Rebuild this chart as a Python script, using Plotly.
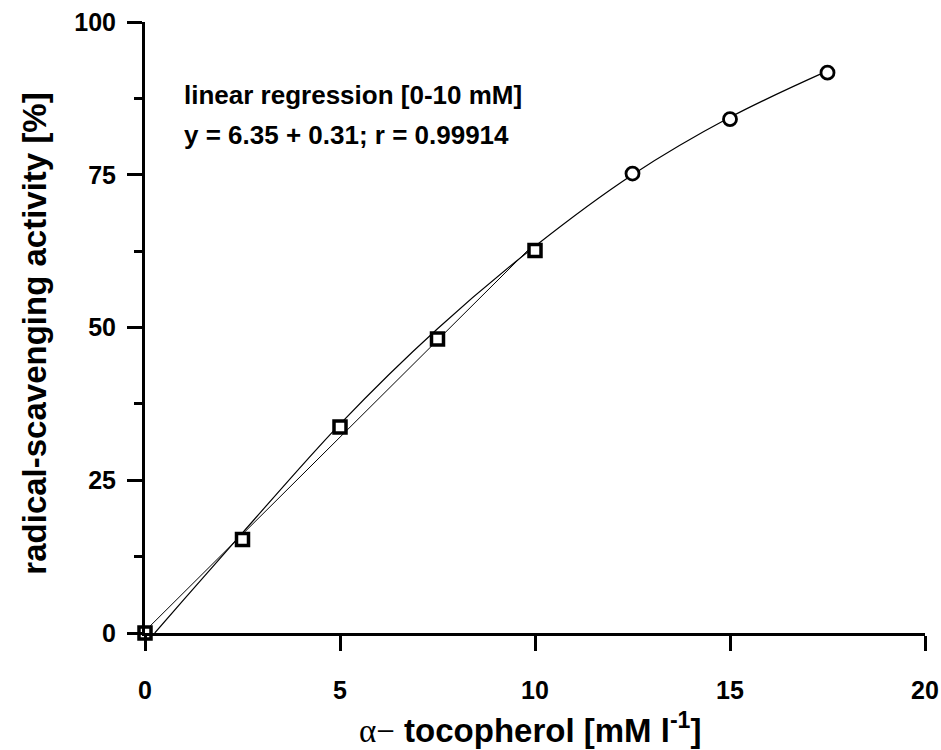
import plotly.graph_objects as go

# measured data points
sq_x = [0, 2.5, 5, 7.5, 10]
sq_y = [0, 15.3, 33.7, 48.1, 62.6]
ci_x = [12.5, 15, 17.5]
ci_y = [75.2, 84.1, 91.7]

# fitted curve
curve_x = [0.25, 1.0, 2.5, 5, 7.5, 10, 12.5, 15, 17.5]
curve_y = [0, 5.5, 16.4, 34.2, 49.8, 63.3, 75.0, 84.4, 92.0]

# linear regression line [0-10 mM]
reg_x = [0, 10]
reg_y = [0.31, 63.8]

x_ticks = [0, 5, 10, 15, 20]
y_ticks = [0, 25, 50, 75, 100]
y_minor = [12.5, 37.5, 62.5, 87.5]

FONT = "Liberation Sans, Arial, sans-serif"

fig = go.Figure()
fig.add_trace(go.Scatter(x=reg_x, y=reg_y, mode="lines",
                         line=dict(color="black", width=1), showlegend=False, cliponaxis=False))
fig.add_trace(go.Scatter(x=curve_x, y=curve_y, mode="lines",
                         line=dict(color="black", width=1.2, shape="spline", smoothing=1.0),
                         showlegend=False, cliponaxis=False))
fig.add_trace(go.Scatter(x=sq_x, y=sq_y, mode="markers",
                         marker=dict(symbol="square", size=12, color="white",
                                     line=dict(color="black", width=3.5)),
                         showlegend=False, cliponaxis=False))
fig.add_trace(go.Scatter(x=ci_x, y=ci_y, mode="markers",
                         marker=dict(symbol="circle", size=13, color="white",
                                     line=dict(color="black", width=2.8)),
                         showlegend=False, cliponaxis=False))

fig.update_layout(
    width=941, height=750,
    margin=dict(l=145, r=16, t=22, b=117),
    paper_bgcolor="white", plot_bgcolor="white",
    font=dict(family=FONT, color="black", size=24),
    xaxis=dict(range=[0, 20], tickvals=x_ticks, ticktext=[f"<b>{v}</b>" for v in x_ticks],
               showgrid=False, zeroline=False, showline=True, linecolor="black", linewidth=3,
               ticks="outside", ticklen=15, tickwidth=2.5, tickcolor="black", automargin=False,
               ticklabelstandoff=18, tickfont=dict(size=25, family=FONT)),
    yaxis=dict(range=[0, 100], tickvals=y_ticks, ticktext=[f"<b>{v}</b>" for v in y_ticks],
               showgrid=False, zeroline=False, showline=True, linecolor="black", linewidth=3,
               ticks="outside", ticklen=15, tickwidth=2.5, tickcolor="black", automargin=False,
               ticklabelstandoff=6, tickfont=dict(size=25, family=FONT),
               minor=dict(tickvals=y_minor, ticks="outside", ticklen=8,
                          tickwidth=2.5, tickcolor="black")),
)

fig.add_annotation(x=-0.141, y=0.49, xref="paper", yref="paper",
                   xanchor="center", yanchor="middle", textangle=-90, showarrow=False,
                   text="<b>radical-scavenging activity [%]</b>",
                   font=dict(size=33, family=FONT))
fig.add_annotation(x=0.95, y=88, xref="x", yref="y", xanchor="left", yanchor="middle",
                   text="<b>linear regression [0-10 mM]</b>", showarrow=False,
                   font=dict(size=26, family=FONT))
fig.add_annotation(x=0.95, y=81.5, xref="x", yref="y", xanchor="left", yanchor="middle",
                   text="<b>y = 6.35 + 0.31; r = 0.99914</b>", showarrow=False,
                   font=dict(size=26, family=FONT))
fig.add_annotation(x=0.493, y=0, xref="paper", yref="paper", xanchor="center", yanchor="middle",
                   yshift=-95, showarrow=False,
                   text=("<span style='font-family:Liberation Serif;font-weight:normal'>α−</span>"
                         "<b> tocopherol [mM l<sup>-1</sup>]</b>"),
                   font=dict(size=33, family=FONT))

fig.write_html("out.html")
